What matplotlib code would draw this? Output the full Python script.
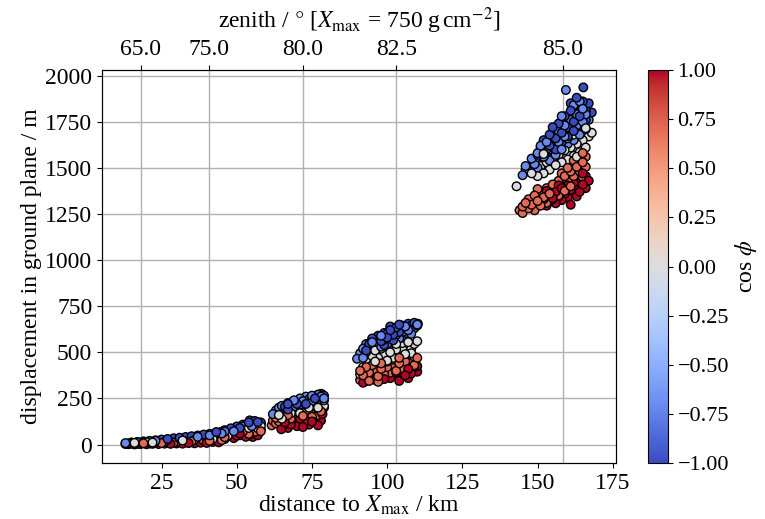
import numpy as np
import matplotlib
matplotlib.use("Agg")
import matplotlib.pyplot as plt
from matplotlib.ticker import FuncFormatter

plt.rcParams["font.family"] = ["Liberation Serif", "DejaVu Serif"]
plt.rcParams["mathtext.fontset"] = "stix"
plt.rcParams["font.size"] = 17

# --- data: (distance to Xmax [km], displacement [m]) per cos(phi) group ---
# cos(phi) groups: 1, 0.707, 0, -0.707, -1
cos_groups = [1.0, 0.707, 0.0, -0.707, -1.0]

# low band, x 13-58 km
low_x = [
    [14, 16, 18, 20, 22, 24, 26, 28, 30, 32, 34, 36, 38, 40, 42, 44, 46, 47, 48.2, 49, 50, 51, 52, 53, 54,
     55.3, 56, 57],
    [13, 15, 17, 19, 21, 23, 25, 27, 29, 31, 33, 35, 37, 39, 41, 43, 45, 46, 47, 48, 49, 50, 51, 52, 53, 54,
     55, 56, 57, 58],
    [14, 16, 18, 20, 22, 24, 26, 28, 30, 32, 34, 36, 38, 40, 42, 44, 45, 46, 47, 48, 49, 50, 51, 52, 53, 54,
     55, 56, 57, 58, 58],
    [13, 15, 17, 19, 21, 23, 25, 27, 29, 31, 33, 35, 37, 39, 41, 43, 45, 46, 47, 48, 49, 50, 51, 52, 53, 54,
     55, 56, 57, 58],
    [15, 17, 19, 21, 23, 25, 27, 29, 31, 33, 35, 37, 39, 41, 43, 43.2, 45, 46, 47, 48, 49, 50, 51, 52, 53, 54,
     54.3, 55, 56, 57, 58],
]
low_y = [
    [2, 1, 3, 2, 4, 3, 5, 4, 6, 5, 8, 7, 10, 9, 14, 12, 30, 45, 50, 35, 48, 60, 55, 42, 52, 41, 60, 50],
    [3, 5, 4, 7, 6, 9, 8, 11, 10, 14, 13, 17, 16, 21, 20, 26, 24, 40, 55, 48, 62, 58, 50, 70, 65, 58, 75, 70,
     80, 72],
    [6, 9, 8, 12, 11, 15, 14, 18, 17, 22, 21, 27, 25, 32, 30, 38, 50, 58, 48, 66, 58, 74, 66, 82, 74, 90, 82,
     96, 88, 100, 82],
    [8, 11, 13, 15, 18, 20, 23, 26, 29, 32, 35, 38, 42, 46, 50, 55, 60, 70, 64, 80, 72, 90, 82, 98, 90, 108,
     100, 118, 110, 115],
    [10, 14, 17, 20, 23, 27, 30, 34, 37, 41, 45, 49, 54, 58, 62, 68, 70, 78, 72, 88, 80, 98, 90, 108, 100, 120,
     131, 112, 128, 122, 120],
]

# zenith 80 cluster
z80_x = [
    [64.8, 66, 66, 67, 68, 69, 70, 70, 71, 72, 73, 74, 74, 75, 76, 77, 77, 78, 78.5, 72],
    [61.6, 62, 63, 63, 64, 65, 66, 66, 67, 68, 68, 69, 70, 71, 71, 72, 73, 73, 74, 75, 75, 76, 77, 77, 78, 79],
    [63, 64, 65, 65, 66, 67, 67, 68, 69, 69, 70, 71, 71, 72, 73, 73, 74, 75, 75, 76, 77, 77, 78, 79, 79],
    [62, 63, 64, 64, 65, 66, 67, 67, 68, 69, 69, 70, 71, 71, 72, 73, 73, 74, 75, 75, 76, 77, 77, 78, 78.4, 79],
    [65, 66, 67, 67, 68, 69, 69, 70, 71, 71, 72, 73, 73, 74, 75, 75, 76, 77, 77, 78, 78, 79],
]
z80_y = [
    [83, 100, 120, 90, 110, 130, 100, 120, 140, 112, 130, 150, 108, 125, 145, 104, 160, 130, 165, 95],
    [104, 130, 115, 145, 125, 150, 135, 110, 160, 140, 120, 165, 145, 175, 130, 155, 185, 140, 165, 190, 150,
     175, 195, 160, 180, 200],
    [130, 160, 140, 175, 155, 185, 150, 170, 195, 160, 180, 205, 170, 190, 215, 180, 200, 225, 190, 210, 235,
     200, 220, 240, 210],
    [165, 185, 200, 170, 210, 190, 225, 195, 210, 240, 205, 225, 250, 215, 235, 260, 225, 245, 265, 235, 255,
     270, 240, 260, 272, 250],
    [180, 205, 220, 190, 210, 235, 200, 220, 245, 210, 230, 255, 220, 240, 262, 230, 250, 270, 238, 258, 275,
     265],
]

# zenith 82.5 cluster
z82_x = [
    [92, 96, 99, 101, 103, 104, 105, 106, 107, 108, 109, 110, 110, 104, 107],
    [91, 91, 92, 93, 93, 94, 95, 95, 96, 97, 98, 98, 99, 100, 100, 101, 102, 102, 103, 104, 104, 105, 106, 106,
     107, 108, 109, 110, 109, 94, 97],
    [91, 92, 93, 94, 95, 96, 96, 97, 98, 98, 99, 100, 100, 101, 102, 103, 103, 104, 105, 105, 106, 107, 108,
     109, 110, 108],
    [90, 91, 92, 92, 93, 93, 94, 95, 95, 96, 96, 97, 98, 98, 99, 100, 100, 101, 102, 102, 103, 104, 104, 105,
     106, 106, 107, 108, 108, 109, 110],
    [93, 94, 95, 96, 97, 98, 99, 99, 100, 101, 102, 102, 103, 104, 105, 105, 106, 107, 107, 108, 109, 110,
     110.2, 104, 101],
]
z82_y = [
    [335, 350, 355, 360, 390, 365, 400, 375, 410, 385, 420, 395, 425, 345, 360],
    [350, 400, 375, 345, 420, 390, 360, 430, 400, 370, 440, 410, 380, 450, 420, 390, 460, 430, 400, 470, 440,
     410, 475, 450, 420, 460, 430, 470, 475, 345, 340],
    [380, 420, 460, 435, 480, 450, 510, 470, 430, 520, 490, 455, 540, 500, 470, 545, 515, 480, 550, 520, 490,
     555, 520, 545, 560, 495],
    [465, 495, 520, 470, 545, 500, 525, 555, 505, 575, 535, 560, 590, 530, 570, 600, 545, 580, 615, 560, 595,
     630, 575, 610, 640, 590, 620, 645, 600, 630, 650],
    [510, 545, 575, 530, 590, 560, 605, 540, 580, 620, 595, 565, 635, 610, 580, 645, 620, 655, 600, 635, 660,
     645, 655, 650, 640],
]

# zenith 85 cluster
z85_x = [
    [151, 152, 153, 154, 154, 155, 156, 156, 157, 158, 158, 159, 160, 160, 161, 162, 162, 163, 164, 164, 165,
     166, 166, 167, 159, 161, 163, 157, 153, 165],
    [144, 145, 145, 146, 147, 147, 148, 149, 149, 150, 151, 151, 152, 153, 153, 154, 155, 155, 156, 157, 157,
     158, 159, 159, 160, 161, 161, 162, 163, 163, 164, 165, 165, 166, 166, 165, 162, 160, 158, 150],
    [143, 146, 148, 149, 150, 150, 151, 152, 152, 153, 154, 154, 155, 156, 156, 157, 158, 158, 159, 160, 160,
     161, 162, 162, 163, 164, 164, 165, 166, 166, 167, 168, 161, 157, 163],
    [145, 146, 147, 148, 149, 150, 150, 151, 152, 153, 153, 154, 155, 155, 156, 157, 157, 158, 159, 159, 160,
     161, 161, 162, 163, 163, 164, 165, 165, 166, 166, 167, 164, 159.4, 162, 158],
    [150, 151, 152, 152, 153, 154, 154, 155, 156, 156, 157, 158, 158, 159, 160, 160, 161, 162, 162, 163, 164,
     164, 165, 166, 166, 167, 165.2, 163, 161, 168],
]
z85_y = [
    [1305, 1330, 1295, 1350, 1318, 1335, 1370, 1308, 1345, 1390, 1325, 1360, 1405, 1340, 1378, 1420, 1355,
     1395, 1440, 1370, 1410, 1455, 1390, 1430, 1420, 1300, 1345, 1405, 1375, 1470],
    [1270, 1290, 1255, 1310, 1280, 1330, 1300, 1350, 1270, 1320, 1365, 1295, 1340, 1390, 1310, 1360, 1410,
     1330, 1385, 1430, 1350, 1405, 1455, 1375, 1430, 1480, 1400, 1455, 1505, 1425, 1480, 1530, 1450, 1505,
     1560, 1580, 1540, 1500, 1470, 1385],
    [1400, 1490, 1470, 1520, 1455, 1560, 1510, 1470, 1575, 1530, 1490, 1600, 1550, 1515, 1620, 1570, 1530,
     1640, 1595, 1545, 1660, 1610, 1565, 1680, 1630, 1585, 1700, 1650, 1610, 1715, 1670, 1690, 1700, 1660,
     1560],
    [1460, 1510, 1480, 1550, 1520, 1580, 1500, 1620, 1560, 1640, 1590, 1540, 1670, 1610, 1570, 1700, 1640,
     1600, 1730, 1670, 1630, 1760, 1700, 1650, 1790, 1730, 1680, 1820, 1750, 1790, 1710, 1760, 1860, 1922,
     1840, 1780],
    [1570, 1610, 1560, 1650, 1600, 1680, 1620, 1720, 1660, 1600, 1740, 1690, 1640, 1780, 1720, 1670, 1810,
     1750, 1700, 1840, 1780, 1730, 1860, 1810, 1760, 1850, 1936, 1880, 1850, 1800],
]

# top axis: zenith angle at the distance to Xmax = 750 g/cm2
zenith_labels = ["65.0", "75.0", "80.0", "82.5", "85.0"]
zenith_dist = [18.1, 40.8, 72.0, 103.0, 158.3]

# collect everything
xs, ys, cs = [], [], []
for gx, gy in [(low_x, low_y), (z80_x, z80_y), (z82_x, z82_y), (z85_x, z85_y)]:
    for c, px, py in zip(cos_groups, gx, gy):
        xs += list(px)
        ys += list(py)
        cs += [c] * len(px)
xs = np.array(xs, dtype=float)
ys = np.array(ys, dtype=float)
cs = np.array(cs)
order = np.argsort((xs * 7.3 + ys * 0.37) % 11)  # mix draw order of the groups
xs, ys, cs = xs[order], ys[order], cs[order]

fig = plt.figure(figsize=(7.65, 5.19), dpi=100)
ax = fig.add_axes([0.1333, 0.1079, 0.6717, 0.7571])
cax = fig.add_axes([0.847, 0.1079, 0.026, 0.7571])

ax2 = ax.twiny()
ax.set_zorder(ax2.get_zorder() + 1)
ax.patch.set_visible(False)

sc = ax.scatter(xs, ys, c=cs, cmap="coolwarm", vmin=-1, vmax=1, s=38,
                edgecolors="black", linewidths=1.0, zorder=3)

ax.set_xlim(5.2, 176)
ax.set_ylim(-100, 2030)
ax.set_xticks([25, 50, 75, 100, 125, 150, 175])
ax.set_yticks(np.arange(0, 2001, 250))
ax.yaxis.grid(True, color="#b0b0b0", lw=1)
ax.set_axisbelow(True)
ax.set_xlabel(r"distance to $X_\mathrm{max}$ / km", labelpad=0)
ax.set_ylabel("displacement in ground plane / m", labelpad=2)

ax2.set_xlim(ax.get_xlim())
ax2.set_xticks(zenith_dist)
ax2.set_xticklabels(zenith_labels)
ax2.xaxis.grid(True, color="#b0b0b0", lw=1)
ax2.set_xlabel(r"zenith / $\degree$ [$X_\mathrm{max}$ = 750 g$\,$cm$^{-2}$]", labelpad=8)

minus_fmt = FuncFormatter(lambda v, p: f"{v:.2f}".replace("-", "\u2212"))
cb = fig.colorbar(sc, cax=cax, ticks=np.arange(-1, 1.01, 0.25), format=minus_fmt)
cb.ax.tick_params(labelsize=16)
cb.set_label(r"cos $\phi$", labelpad=3)

fig.savefig("out.png", dpi=100)
